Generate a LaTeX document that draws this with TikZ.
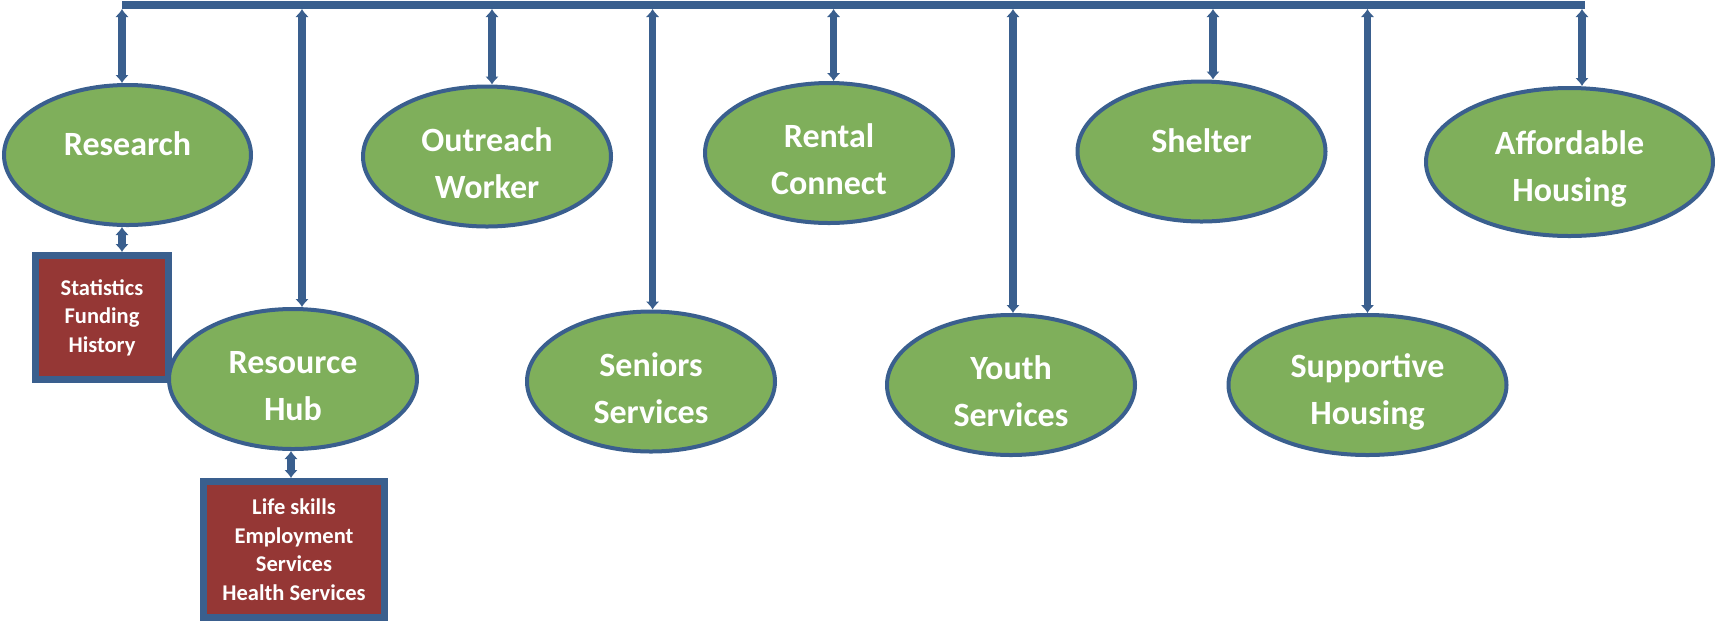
\documentclass[tikz,border=0pt]{standalone}
\usepackage{fontspec}
\setmainfont{Carlito}
\usetikzlibrary{arrows.meta,shapes.geometric}

\definecolor{linkblue}{RGB}{58,95,142}
\definecolor{ovalgreen}{RGB}{127,175,91}
\definecolor{boxred}{RGB}{149,55,53}

\begin{document}
\begin{tikzpicture}[x=0.5pt,y=-0.5pt]

	\tikzstyle unit oval=[ellipse, draw=linkblue, line width=2pt, fill=ovalgreen, text=white, font=\fontsize{17}{23.5}\selectfont\bfseries, align=center, inner sep=0pt, minimum width=124pt, minimum height=70pt];
	\tikzstyle single line=[text depth=11pt];
	\tikzstyle two lines=[text height=42pt];
	\tikzstyle topic box=[rectangle, draw=linkblue, line width=3.5pt, fill=boxred, text=white, font=\fontsize{11.25}{14.3}\selectfont\bfseries, align=center, inner sep=0pt];
	\tikzstyle bar line=[draw=linkblue, line width=4.2pt];
	\tikzstyle link line=[draw=linkblue, line width=3.8pt, {Latex[length=4pt,width=7pt]}-{Latex[length=4pt,width=7pt]}];

	\useasboundingbox (0,0) rectangle (1715,623);

	% detail boxes
	\node[topic box, minimum width=66.5pt, minimum height=62pt] (stats) at (102,317.5) {Statistics\\Funding\\History};
	\node[topic box, minimum width=90.5pt, minimum height=68pt] (skills) at (294,549.5) {Life skills\\Employment\\Services\\Health Services};

	% upper row
	\node[unit oval, single line, minimum width=123.5pt] (res) at (127.5,155) {Research};
	\node[unit oval, two lines] (out) at (487,156.5) {Outreach\\Worker};
	\node[unit oval, two lines] (ren) at (829,153) {Rental\\Connect};
	\node[unit oval, single line] (she) at (1201.5,151.5) {Shelter};
	\node[unit oval, two lines, minimum width=143.5pt, minimum height=74pt] (aff) at (1569.5,162) {Affordable\\Housing};

	% lower row
	\node[unit oval, two lines] (hub) at (293,379) {Resource\\Hub};
	\node[unit oval, two lines] (sen) at (651,381.5) {Seniors\\Services};
	\node[unit oval, two lines] (you) at (1011,385) {Youth\\Services};
	\node[unit oval, two lines, minimum width=139pt] (sup) at (1367.5,385) {Supportive\\Housing};

	\coordinate (bar) at (0,5);
	\coordinate (drop) at (0,9);
	\draw[bar line] ([xshift=-2.75pt]res.north |- bar) -- ([xshift=7.75pt]aff.north |- bar);

	\foreach \n/\dx in {res/-2.75,hub/4.5,out/2.5,sen/0.8,ren/2.3,you/1,she/5.75,sup/0,aff/6.25}
		\draw[link line] ([xshift=\dx pt]\n.north |- drop) -- ([xshift=\dx pt]\n.north);

	\draw[link line] ([xshift=-2.75pt]res.south) -- ([xshift=-2.75pt]res.south |- stats.north);
	\draw[link line] ([xshift=-1pt]hub.south) -- ([xshift=-1pt]hub.south |- skills.north);

\end{tikzpicture}
\end{document}
